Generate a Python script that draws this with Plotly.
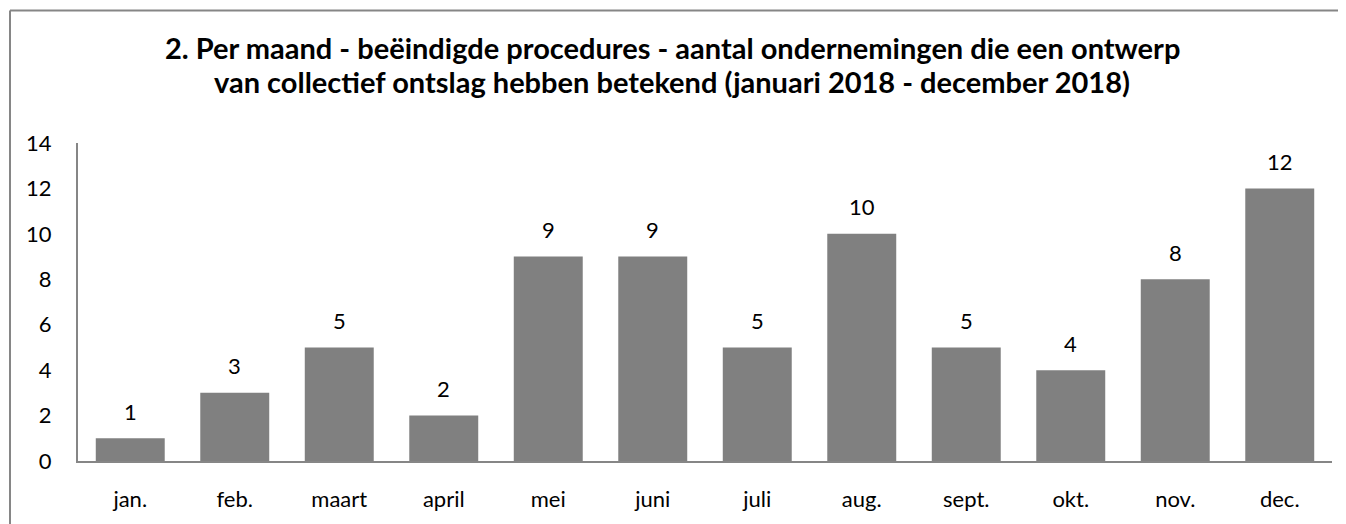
import plotly.graph_objects as go

months = ["jan.", "feb.", "maart", "april", "mei", "juni", "juli", "aug.", "sept.", "okt.", "nov.", "dec."]
counts = [1, 3, 5, 2, 9, 9, 5, 10, 5, 4, 8, 12]
y_ticks = [0, 2, 4, 6, 8, 10, 12, 14]
title_lines = ["2. Per maand - beëindigde procedures - aantal ondernemingen die een ontwerp",
               "van collectief ontslag hebben betekend (januari 2018 - december 2018)"]

FONT = "Lato, Carlito, Calibri, sans-serif"
AXIS = "#868686"

W, H = 1338, 516
L, R, T, B = 70, 14, 135, 63
PW, PH = W - L - R, H - T - B

fig = go.Figure(go.Bar(x=months, y=counts, marker=dict(color="#808080", line=dict(width=0))))

for m, v in zip(months, counts):
    fig.add_annotation(x=m, y=v, text=str(v), showarrow=False, yshift=27,
                       font=dict(family=FONT, size=22, color="black"))

# title, two lines with chart-like line spacing
for line, fy in zip(title_lines, [40, 74]):
    fig.add_annotation(xref="paper", yref="paper", x=(664 - L) / PW, y=(H - B - fy) / PH,
                       xanchor="center", yanchor="middle", showarrow=False,
                       text="<b>" + line + "</b>",
                       font=dict(family=FONT, size=29, color="black"))

fig.update_layout(
    width=W, height=H,
    margin=dict(l=L, r=R, t=T, b=B),
    paper_bgcolor="white", plot_bgcolor="white",
    bargap=0.34,
    showlegend=False,
    font=dict(family=FONT, size=22, color="black"),
)
fig.update_xaxes(showline=True, linecolor=AXIS, linewidth=2, showgrid=False,
                 ticks="outside", ticklen=18, tickcolor="rgba(0,0,0,0)",
                 tickfont=dict(family=FONT, size=22, color="black"))
fig.update_yaxes(range=[0, 14], tickvals=y_ticks, showline=True, linecolor=AXIS, linewidth=2,
                 showgrid=False, zeroline=False,
                 ticks="outside", ticklen=20, tickcolor="rgba(0,0,0,0)",
                 tickfont=dict(family=FONT, size=22, color="black"))

# outer chart border: only top and left edges are visible in the frame
bx0 = (2 - L) / PW
by1 = (H - B - 2.5) / PH
fig.add_shape(type="line", xref="paper", yref="paper", x0=bx0, x1=1.2, y0=by1, y1=by1,
              line=dict(color=AXIS, width=2), layer="below")
fig.add_shape(type="line", xref="paper", yref="paper", x0=bx0, x1=bx0, y0=-0.5, y1=by1,
              line=dict(color=AXIS, width=2), layer="below")

fig.write_html("out.html")
